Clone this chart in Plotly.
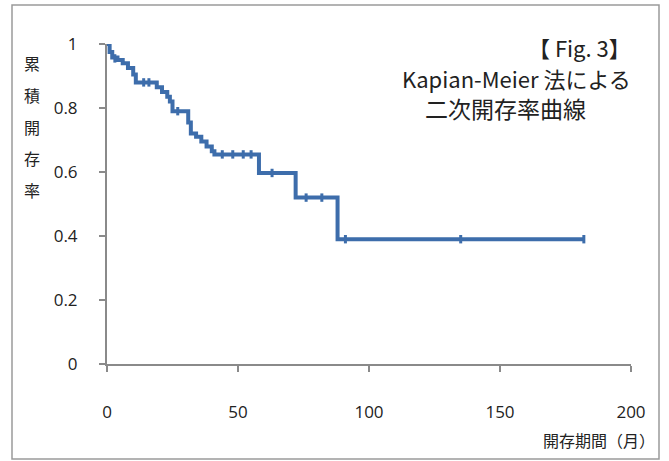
import plotly.graph_objects as go

# Kaplan-Meier step data (months, cumulative patency)
times = [0, 1, 2, 4, 6, 8, 10, 11, 19, 21, 23, 24, 25, 31, 32, 34, 36, 38, 40, 41, 58, 72, 88, 182]
surv = [1.0, 0.975, 0.958, 0.95, 0.94, 0.925, 0.905, 0.88, 0.865, 0.85, 0.835, 0.82, 0.79, 0.755, 0.72, 0.71, 0.695, 0.68, 0.665, 0.655, 0.597, 0.52, 0.39, 0.39]
censor_t = [3, 14, 16, 27, 44, 48, 52, 55, 63, 76, 82, 91, 135, 182]
censor_s = [0.955, 0.88, 0.88, 0.79, 0.655, 0.655, 0.655, 0.655, 0.597, 0.52, 0.52, 0.39, 0.39, 0.39]

x_ticks = [0, 50, 100, 150, 200]
y_ticks = [0, 0.2, 0.4, 0.6, 0.8, 1]
y_tick_text = ["0", "0.2", "0.4", "0.6", "0.8", "1"]

W, H = 669, 461
L, R, T, B = 107, 631, 44, 364


def px(x):
    return (x - L) / (R - L)


def py(y):
    return (B - y) / (B - T)


blue = "#3d6dab"
fig = go.Figure()
fig.add_trace(go.Scatter(x=times, y=surv, mode="lines", line=dict(color=blue, width=4, shape="hv"),
                         showlegend=False, hoverinfo="skip"))
fig.add_trace(go.Scatter(x=censor_t, y=censor_s, mode="markers",
                         marker=dict(symbol="line-ns-open", size=6, color=blue, line=dict(color=blue, width=3)),
                         showlegend=False, hoverinfo="skip"))

font_cjk = "Noto Sans CJK JP, Noto Sans, sans-serif"
axis_common = dict(showgrid=False, zeroline=False, showline=True, linecolor="#8a8a8a", linewidth=2,
                   ticks="outside", tickcolor="#8a8a8a", tickwidth=2, ticklen=6,
                   tickfont=dict(family="Open Sans, Noto Sans, sans-serif", size=17, color="#222"))
fig.update_layout(
    width=W, height=H,
    margin=dict(l=L, r=W - R, t=T, b=H - B),
    paper_bgcolor="white", plot_bgcolor="white",
    xaxis=dict(range=[0, 200], tickvals=x_ticks, ticklabelstandoff=26, **axis_common),
    yaxis=dict(range=[0, 1], tickvals=y_ticks, ticktext=y_tick_text, ticklabelstandoff=18, **axis_common),
)

# outer frame
fig.add_shape(type="rect", xref="paper", yref="paper", x0=px(12), x1=px(659), y0=py(459), y1=py(5),
              line=dict(color="#9a9a9a", width=1.5), fillcolor="rgba(0,0,0,0)", layer="below")

# vertical y-axis title
for ch, yy in zip("累積開存率", [63, 95, 127, 158, 190]):
    fig.add_annotation(text=ch, xref="paper", yref="paper", x=px(32), y=py(yy), showarrow=False,
                       xanchor="center", yanchor="middle", font=dict(family=font_cjk, size=16, color="#222"))

# x-axis title
fig.add_annotation(text="開存期間（月）", xref="paper", yref="paper", x=px(657), y=py(440), showarrow=False,
                   xanchor="right", yanchor="middle", font=dict(family=font_cjk, size=16, color="#222"))

# figure caption
fig.add_annotation(text="【 Fig. 3】", xref="paper", yref="paper", x=px(633), y=py(47), showarrow=False,
                   xanchor="right", yanchor="middle", font=dict(family=font_cjk, size=22, color="#222"))
fig.add_annotation(text="Kapian-Meier 法による", xref="paper", yref="paper", x=px(633), y=py(78), showarrow=False,
                   xanchor="right", yanchor="middle", font=dict(family=font_cjk, size=22, color="#222"))
fig.add_annotation(text="二次開存率曲線", xref="paper", yref="paper", x=px(505), y=py(108), showarrow=False,
                   xanchor="center", yanchor="middle", font=dict(family=font_cjk, size=23, color="#222"))

fig.write_html("out.html", config={"displayModeBar": False},
               post_script="document.body.style.margin='0';document.body.style.overflow='hidden';")
